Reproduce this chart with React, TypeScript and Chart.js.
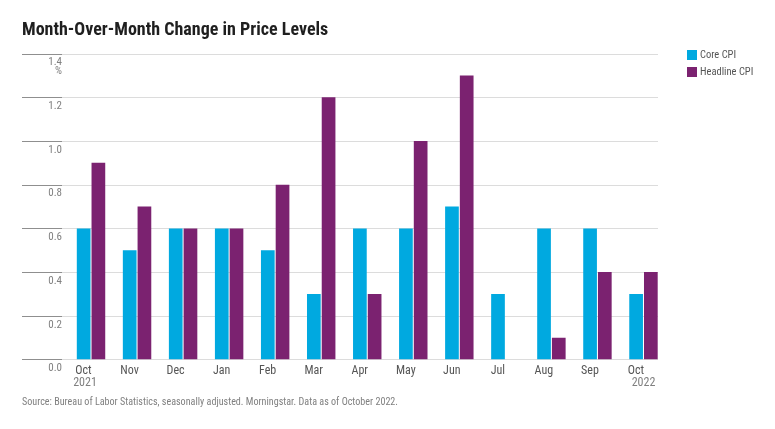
import React, { useEffect, useRef } from "react";
import { Chart, registerables } from "chart.js";

Chart.register(...registerables);

const categories = ["Oct", "Nov", "Dec", "Jan", "Feb", "Mar", "Apr", "May", "Jun", "Jul", "Aug", "Sep", "Oct"];
const yearLabels = ["2021", "", "", "", "", "", "", "", "", "", "", "", "2022"];
const coreCPI = [0.6, 0.5, 0.6, 0.6, 0.5, 0.3, 0.6, 0.6, 0.7, 0.3, 0.6, 0.6, 0.3];
const headlineCPI = [0.9, 0.7, 0.6, 0.6, 0.8, 1.2, 0.3, 1.0, 1.3, 0.0, 0.1, 0.4, 0.4];
const yTicks = [0, 0.2, 0.4, 0.6, 0.8, 1.0, 1.2, 1.4];

const FONT = "'Liberation Sans Narrow', 'Roboto Condensed', Roboto, sans-serif";

const gridPlugin = {
  id: "customGrid",
  beforeDatasetsDraw(chart: any) {
    const { ctx, scales } = chart;
    const y = scales.y;
    ctx.save();
    ctx.lineWidth = 1;
    yTicks.forEach((v) => {
      const py = Math.round(y.getPixelForValue(v)) + 0.5;
      ctx.strokeStyle = "#8f8f8f";
      ctx.beginPath();
      ctx.moveTo(22, py);
      ctx.lineTo(62, py);
      ctx.stroke();
      ctx.strokeStyle = "#dcdcdc";
      ctx.beginPath();
      ctx.moveTo(62, py);
      ctx.lineTo(658, py);
      ctx.stroke();
    });
    const top = y.getPixelForValue(1.4);
    ctx.fillStyle = "#808080";
    ctx.font = `11px ${FONT}`;
    ctx.textAlign = "right";
    ctx.textBaseline = "middle";
    ctx.fillText("%", 62, top + 18);
    const x = scales.x;
    ctx.fillStyle = "#808080";
    ctx.font = `12px ${FONT}`;
    ctx.textAlign = "center";
    yearLabels.forEach((lab, i) => {
      if (!lab) return;
      const px = x.getPixelForTick(i) + (i === 0 ? -6 : 0);
      ctx.fillText(lab, px, y.bottom + 24);
    });
    ctx.restore();
  },
  afterDraw(chart: any) {
    const { ctx } = chart;
    ctx.save();
    ctx.font = `10.5px ${FONT}`;
    ctx.textAlign = "left";
    ctx.textBaseline = "middle";
    chart.data.datasets.forEach((ds: any, i: number) => {
      const cy = 55 + i * 17;
      ctx.fillStyle = ds.backgroundColor;
      ctx.fillRect(687, cy - 5, 10, 10);
      ctx.fillStyle = "#555555";
      ctx.fillText(ds.label, 700, cy);
    });
    ctx.restore();
  },
};

export default function App() {
  const ref = useRef<HTMLCanvasElement | null>(null);
  useEffect(() => {
    if (!ref.current) return;
    const chart = new Chart(ref.current, {
      type: "bar",
      data: {
        labels: categories,
        datasets: [
          {
            label: "Core CPI",
            data: coreCPI,
            backgroundColor: "#00a9e0",
            categoryPercentage: 0.64,
            barPercentage: 0.93,
          },
          {
            label: "Headline CPI",
            data: headlineCPI,
            backgroundColor: "#7b2270",
            categoryPercentage: 0.64,
            barPercentage: 0.93,
          },
        ],
      },
      options: {
        animation: false,
        responsive: true,
        maintainAspectRatio: false,
        layout: { padding: { left: 22, right: 108.5, bottom: 20, top: 0 } },
        plugins: {
          title: {
            display: true,
            text: "Month-Over-Month Change in Price Levels",
            align: "start",
            color: "#1f1f1f",
            font: { family: FONT, size: 18, weight: "bold" },
            padding: { top: 20, bottom: 12 },
          },
          subtitle: {
            display: true,
            position: "bottom",
            text: "Source: Bureau of Labor Statistics, seasonally adjusted. Morningstar. Data as of October 2022.",
            align: "start",
            color: "#808080",
            font: { family: FONT, size: 10.1 },
            padding: { top: 15, bottom: 0 },
          },
          legend: { display: false },
          tooltip: { enabled: false },
        },
        scales: {
          x: {
            grid: { display: false, drawTicks: false },
            border: { display: false },
            ticks: {
              color: "#555555",
              font: { family: FONT, size: 12 },
              labelOffset: -7.5,
              padding: 4,
              maxRotation: 0,
            },
          },
          y: {
            min: 0,
            max: 1.4,
            grid: { display: false, drawTicks: false },
            border: { display: false },
            afterFit: (s: any) => {
              s.width = 46;
            },
            ticks: {
              stepSize: 0.2,
              color: "#808080",
              font: { family: FONT, size: 11 },
              padding: 6,
              labelOffset: 9,
              callback: (v: any) => Number(v).toFixed(1),
            },
          },
        },
      },
      plugins: [gridPlugin],
    });
    return () => chart.destroy();
  }, []);
  return (
    <div style={{ position: "fixed", left: 0, top: 0, width: 775, height: 429, background: "#fff" }}>
      <canvas ref={ref} />
    </div>
  );
}
